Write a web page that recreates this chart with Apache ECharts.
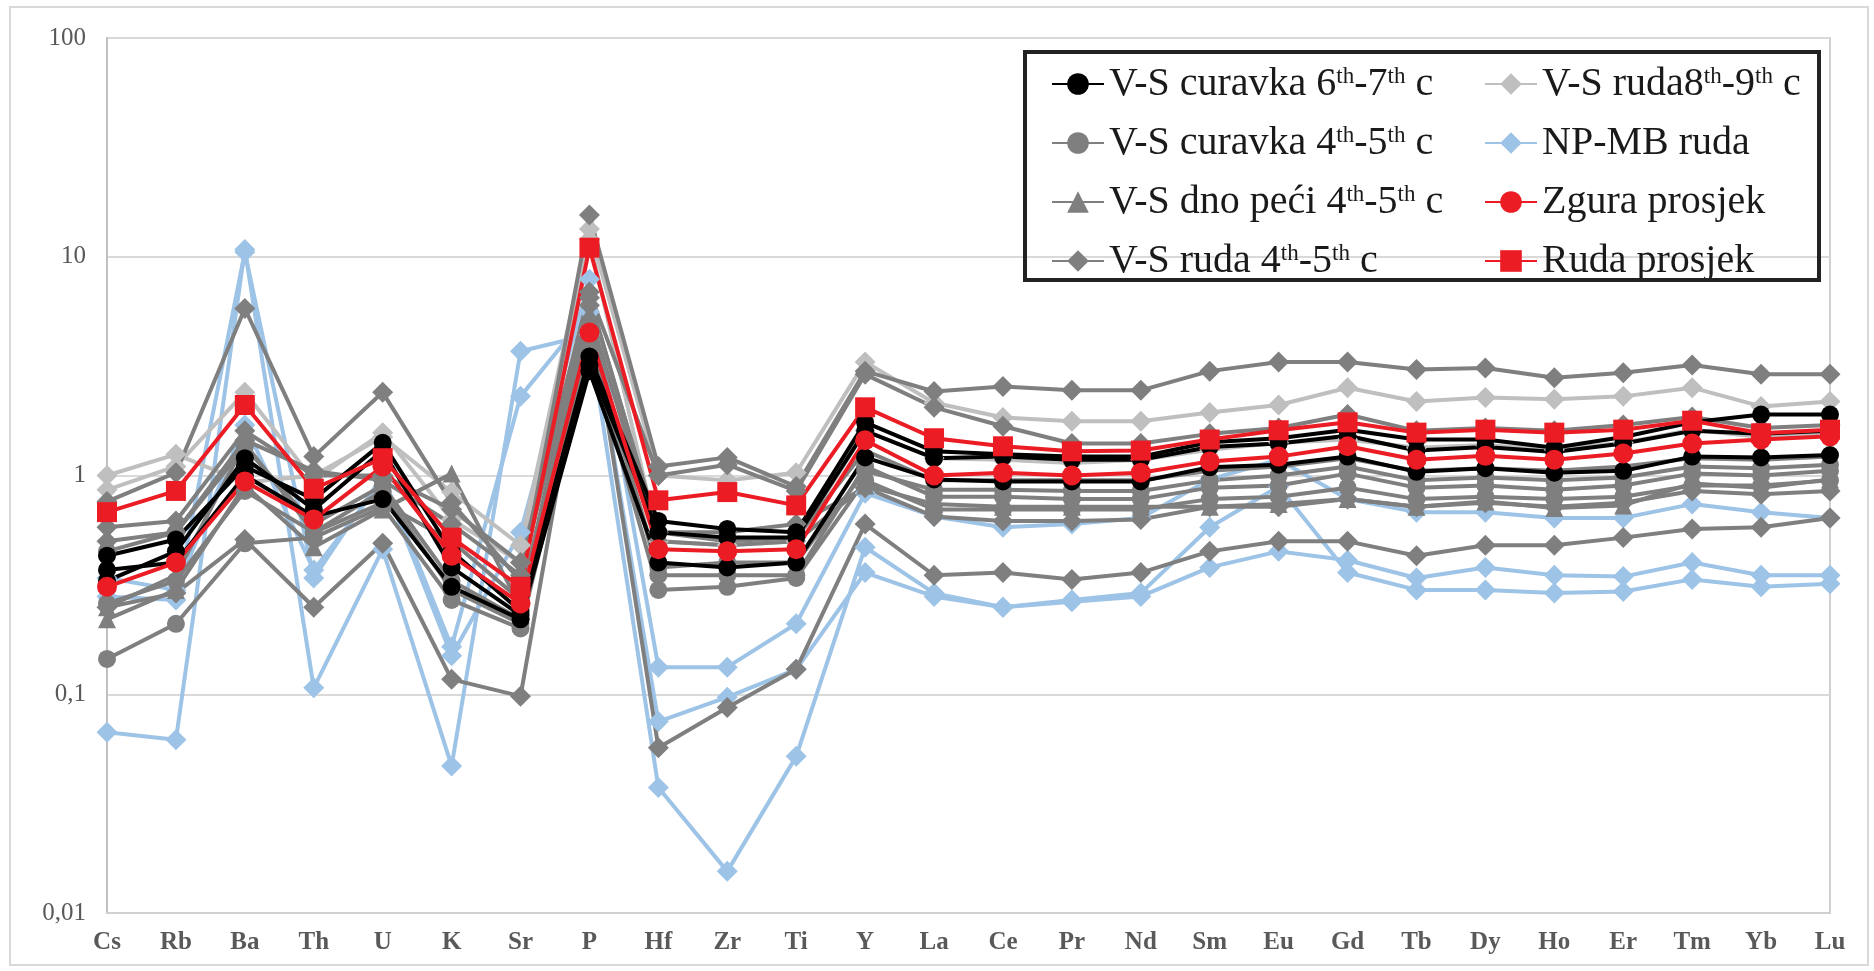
<!DOCTYPE html>
<html>
<head>
<meta charset="utf-8">
<script src="https://cdn.jsdelivr.net/npm/echarts@6/dist/echarts.min.js"></script>
<style>
  html, body { margin: 0; padding: 0; background: #fff; }
  #chart { width: 1874px; height: 971px; }
</style>
</head>
<body>
<div id="chart"></div>
<script>
// elements on x axis
const elements = ['Cs', 'Rb', 'Ba', 'Th', 'U', 'K', 'Sr', 'P', 'Hf', 'Zr', 'Ti', 'Y', 'La', 'Ce', 'Pr', 'Nd', 'Sm', 'Eu', 'Gd', 'Tb', 'Dy', 'Ho', 'Er', 'Tm', 'Yb', 'Lu']
const yTicks = [0.01, 0.1, 1, 10, 100]

// NP-MB ruda
const npmb1 = [0.34, 0.30, 1.7, 0.37, 0.95, 0.15, 0.55, 7.9, 0.133, 0.133, 0.21, 0.83, 0.65, 0.58, 0.6, 0.64, 0.96, 1.18, 0.78, 0.68, 0.68, 0.64, 0.64, 0.74, 0.68, 0.64]
const npmb2 = [0.28, 0.27, 10.5, 0.34, 1.0, 0.165, 2.3, 5.6, 0.075, 0.097, 0.13, 0.36, 0.28, 0.25, 0.27, 0.29, 0.58, 0.89, 0.36, 0.30, 0.30, 0.29, 0.295, 0.335, 0.31, 0.32]
const npmb3 = [0.067, 0.062, 10.8, 0.107, 0.46, 0.047, 3.7, 4.4, 0.0375, 0.0155, 0.052, 0.47, 0.29, 0.25, 0.265, 0.28, 0.38, 0.45, 0.41, 0.34, 0.38, 0.35, 0.345, 0.40, 0.35, 0.35]

// V-S ruda 8th-9th c
const ruda89a = [1.0, 1.25, 0.93, 1.0, 1.5, 0.84, 0.48, 13.4, 1.0, 0.95, 1.03, 3.3, 2.15, 1.84, 1.77, 1.77, 1.94, 2.1, 2.52, 2.18, 2.27, 2.23, 2.3, 2.52, 2.07, 2.18]
const ruda89b = [0.86, 1.1, 2.4, 0.95, 1.57, 0.63, 0.4, 12, 0.5, 0.48, 0.5, 1.6, 1.2, 1.18, 1.14, 1.18, 1.31, 1.41, 1.46, 1.34, 1.38, 1.31, 1.41, 1.62, 1.5, 1.54]

// V-S ruda 4th-5th c
const ruda45a = [0.76, 1.03, 5.8, 1.22, 2.4, 0.75, 0.33, 15.5, 1.1, 1.21, 0.89, 3.0, 2.42, 2.55, 2.45, 2.45, 3.0, 3.3, 3.3, 3.05, 3.1, 2.8, 2.95, 3.2, 2.9, 2.9]
const ruda45b = [0.58, 0.62, 1.6, 1.0, 1.0, 0.7, 0.4, 6.9, 1.0, 1.12, 0.85, 2.9, 2.05, 1.68, 1.4, 1.4, 1.55, 1.65, 1.9, 1.6, 1.65, 1.6, 1.7, 1.85, 1.65, 1.7]
const ruda45c = [0.5, 0.55, 1.45, 1.05, 0.95, 0.6, 0.35, 6.5, 0.55, 0.55, 0.6, 0.88, 0.65, 0.62, 0.62, 0.63, 0.72, 0.72, 0.78, 0.72, 0.75, 0.72, 0.75, 0.85, 0.82, 0.85]
const ruda45d = [0.25, 0.29, 0.51, 0.25, 0.49, 0.117, 0.098, 6.0, 0.057, 0.087, 0.13, 0.6, 0.35, 0.36, 0.335, 0.36, 0.45, 0.5, 0.5, 0.43, 0.48, 0.48, 0.52, 0.57, 0.58, 0.64]

// V-S dno peći 4th-5th c
const dno45a = [0.22, 0.3, 0.9, 0.47, 0.7, 1.02, 0.25, 5.5, 0.5, 0.48, 0.5, 0.9, 0.74, 0.72, 0.72, 0.72, 0.72, 0.74, 0.78, 0.72, 0.76, 0.71, 0.73, 0.92, 0.88, 0.96]
const dno45b = [0.25, 0.35, 1.4, 0.55, 0.75, 0.5, 0.27, 6.5, 0.55, 0.5, 0.52, 1.3, 0.95, 0.95, 0.95, 0.95, 1.05, 1.1, 1.2, 1.05, 1.08, 1.05, 1.1, 1.2, 1.18, 1.22]

// V-S curavka 4th-5th c
const cur45a = [0.145, 0.21, 0.49, 0.52, 0.72, 0.27, 0.2, 3.8, 0.30, 0.31, 0.34, 0.95, 0.7, 0.7, 0.7, 0.7, 0.78, 0.8, 0.88, 0.78, 0.8, 0.78, 0.8, 0.9, 0.9, 0.95]
const cur45b = [0.45, 0.55, 1.35, 0.6, 0.9, 0.33, 0.22, 5.0, 0.35, 0.35, 0.35, 1.1, 0.8, 0.8, 0.78, 0.78, 0.88, 0.9, 1.02, 0.88, 0.9, 0.86, 0.9, 1.02, 1.0, 1.05]
const cur45c = [0.26, 0.33, 0.85, 0.55, 0.85, 0.3, 0.21, 4.2, 0.38, 0.4, 0.4, 1.05, 0.86, 0.86, 0.85, 0.85, 0.95, 1.0, 1.1, 0.95, 0.98, 0.95, 0.98, 1.1, 1.08, 1.12]

// V-S curavka 6th-7th c
const cur67a = [0.43, 0.51, 1.1, 0.78, 1.41, 0.45, 0.24, 3.5, 0.62, 0.57, 0.55, 1.75, 1.29, 1.25, 1.22, 1.22, 1.42, 1.48, 1.62, 1.46, 1.46, 1.34, 1.5, 1.75, 1.9, 1.9]
const cur67b = [0.37, 0.40, 1.0, 0.65, 0.78, 0.31, 0.22, 3.0, 0.40, 0.38, 0.40, 1.21, 0.96, 0.94, 0.94, 0.94, 1.09, 1.12, 1.22, 1.04, 1.08, 1.03, 1.05, 1.22, 1.21, 1.24]
const cur67c = [0.33, 0.45, 1.2, 0.7, 1.3, 0.38, 0.23, 3.2, 0.55, 0.52, 0.52, 1.6, 1.2, 1.22, 1.18, 1.18, 1.35, 1.4, 1.52, 1.3, 1.35, 1.28, 1.4, 1.6, 1.55, 1.6]

// averages
const zguraProsjek = [0.31, 0.40, 0.94, 0.63, 1.1, 0.43, 0.26, 4.5, 0.46, 0.45, 0.46, 1.45, 1.0, 1.03, 1.0, 1.03, 1.16, 1.22, 1.36, 1.18, 1.23, 1.18, 1.26, 1.40, 1.46, 1.51]
const rudaProsjek = [0.68, 0.85, 2.1, 0.87, 1.2, 0.52, 0.31, 11, 0.77, 0.84, 0.73, 2.05, 1.48, 1.36, 1.29, 1.30, 1.46, 1.61, 1.75, 1.57, 1.62, 1.57, 1.62, 1.78, 1.56, 1.62]

const N_CUR67 = 'V-S curavka 6th-7th c'
const N_CUR45 = 'V-S curavka 4th-5th c'
const N_DNO = 'V-S dno peći 4th-5th c'
const N_R45 = 'V-S ruda 4th-5th c'
const N_R89 = 'V-S ruda8th-9th c'
const N_NP = 'NP-MB ruda'
const N_ZG = 'Zgura prosjek'
const N_RP = 'Ruda prosjek'

const chart = echarts.init(document.getElementById('chart'))

function line(name, data, color, symbol, size, width) {
  return {
    name: name,
    type: 'line',
    data: data,
    symbol: symbol,
    symbolSize: size,
    showAllSymbol: true,
    color: color,
    lineStyle: { color: color, width: width || 4 },
    itemStyle: { color: color },
    emphasis: { disabled: true }
  }
}

const blue = '#9dc3e6'
const lgray = '#bfbfbf'
const gray = '#7f7f7f'
const red = '#ec1c24'

const series = [
  line(N_NP, npmb1, blue, 'diamond', 21),
  line(N_NP, npmb2, blue, 'diamond', 21),
  line(N_NP, npmb3, blue, 'diamond', 21),
  line(N_R89, ruda89a, lgray, 'diamond', 21),
  line(N_R89, ruda89b, lgray, 'diamond', 21),
  line(N_CUR45, cur45a, gray, 'circle', 18),
  line(N_CUR45, cur45b, gray, 'circle', 18),
  line(N_CUR45, cur45c, gray, 'circle', 18),
  line(N_DNO, dno45a, gray, 'triangle', 18),
  line(N_DNO, dno45b, gray, 'triangle', 18),
  line(N_R45, ruda45a, gray, 'diamond', 21),
  line(N_R45, ruda45b, gray, 'diamond', 21),
  line(N_R45, ruda45c, gray, 'diamond', 21),
  line(N_R45, ruda45d, gray, 'diamond', 21),
  line(N_CUR67, cur67a, '#000000', 'circle', 18),
  line(N_CUR67, cur67b, '#000000', 'circle', 18),
  line(N_CUR67, cur67c, '#000000', 'circle', 18),
  line(N_ZG, zguraProsjek, red, 'circle', 20),
  line(N_RP, rudaProsjek, red, 'rect', 20)
]

const serif = 'Liberation Serif, Times New Roman, serif'
const legendText = {
  fontFamily: serif,
  fontSize: 40,
  lineHeight: 38,
  color: '#1a1a1a',
  rich: {
    n: { fontFamily: serif, fontSize: 40, lineHeight: 38, color: '#1a1a1a' },
    s: { fontFamily: serif, fontSize: 23, lineHeight: 24, verticalAlign: 'top', color: '#1a1a1a' }
  }
}
// wrap text in rich tags, with "th" set as superscript
function legendFmt(name) {
  const parts = name.split(/(th)(?=-| c)/)
  return parts.map(function (p) {
    if (!p) return ''
    return p === 'th' ? '{s|th}' : '{n|' + p + '}'
  }).join('')
}

const option = {
  animation: false,
  backgroundColor: '#ffffff',
  graphic: [{
    type: 'rect',
    shape: { x: 10, y: 7, width: 1858, height: 958 },
    style: { fill: 'none', stroke: '#d9d9d9', lineWidth: 2 },
    silent: true
  }, {
    type: 'rect',
    shape: { x: 1025, y: 52, width: 794, height: 228 },
    style: { fill: 'none', stroke: '#222222', lineWidth: 4 },
    silent: true,
    z: 10
  }],
  grid: {
    left: 107,
    right: 44,
    top: 38,
    bottom: 58,
    show: true,
    borderColor: '#d0d0d0',
    borderWidth: 2
  },
  legend: [{
    data: [N_CUR67, N_CUR45, N_DNO, N_R45],
    orient: 'vertical',
    left: 1046,
    top: 59,
    itemWidth: 52,
    itemHeight: 27,
    itemGap: 19,
    formatter: legendFmt,
    textStyle: legendText
  }, {
    data: [N_R89, N_NP, N_ZG, N_RP],
    orient: 'vertical',
    left: 1479,
    top: 59,
    itemWidth: 52,
    itemHeight: 27,
    itemGap: 19,
    formatter: legendFmt,
    textStyle: legendText
  }],
  xAxis: {
    type: 'category',
    data: elements,
    boundaryGap: false,
    axisTick: { show: false },
    axisLine: { lineStyle: { color: '#d0d0d0', width: 2 } },
    axisLabel: {
      interval: 0,
      margin: 17,
      fontFamily: serif,
      fontWeight: 'bold',
      fontSize: 25,
      color: '#595959'
    }
  },
  yAxis: {
    type: 'log',
    logBase: 10,
    min: yTicks[0],
    max: yTicks[yTicks.length - 1],
    axisTick: { show: false },
    axisLine: { show: true, lineStyle: { color: '#c0c0c0', width: 2 } },
    splitLine: { lineStyle: { color: '#d9d9d9', width: 2 } },
    axisLabel: {
      margin: 21,
      fontFamily: serif,
      fontSize: 25,
      color: '#595959',
      formatter: function (v) {
        if (v >= 1) return String(Math.round(v))
        const d = Math.round(-Math.log10(v))
        return v.toFixed(d).replace('.', ',')
      }
    }
  },
  series: series
}
chart.setOption(option)
</script>
</body>
</html>
